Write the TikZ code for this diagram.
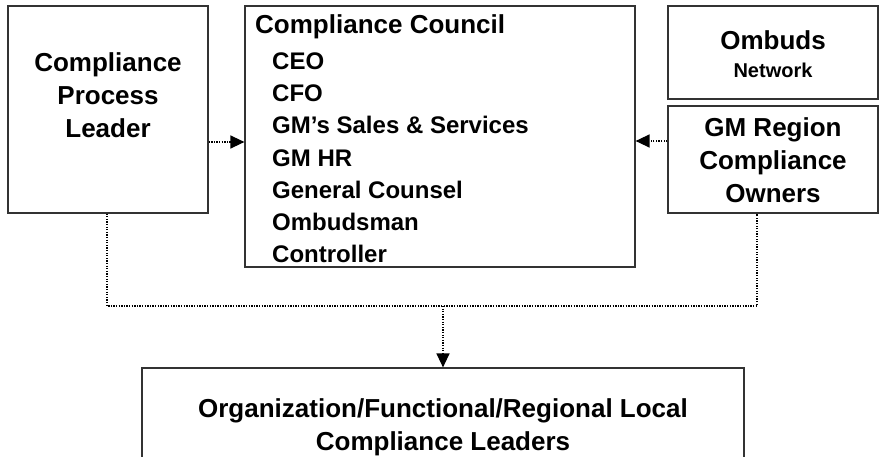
\documentclass[tikz,border=0pt]{standalone}
\usepackage{fontspec}
\setmainfont{Liberation Sans}
\usetikzlibrary{arrows.meta,calc}

\tikzset{
  box/.style={draw=black!80, line width=1.2pt, rectangle, inner sep=0pt},
  bigtxt/.style={font=\bfseries\fontsize{26}{33}\selectfont, align=center, inner sep=0pt},
  itemtxt/.style={font=\bfseries\fontsize{24}{32.2}\selectfont, align=left, inner sep=0pt, anchor=north west},
  dotline/.style={line width=1.4pt, dash pattern=on 1.3pt off 1.3pt},
  tip/.style={-{Triangle[length=14pt,width=13pt]}},
}

\begin{document}
\begin{tikzpicture}[x=1pt,y=-1pt]
  \clip (0,0) rectangle (879,457);
  \fill[white] (0,0) rectangle (879,457);

  % boxes
  \node[box, minimum width=200pt, minimum height=207pt] (lead) at (108,109.5) {};
  \node[box, minimum width=390pt, minimum height=261pt] (council) at (440,136.5) {};
  \node[box, minimum width=210pt, minimum height=93pt] (ombuds) at (773,52.5) {};
  \node[box, minimum width=210pt, minimum height=107pt] (region) at (773,159.5) {};
  \node[box, minimum width=602pt, minimum height=140pt] (local) at (443,438) {};

  % texts
  \node[bigtxt] (leadtxt) at (108,95.5) {Compliance\\Process\\Leader};
  \node[bigtxt, anchor=west] (counciltitle) at (255,27) {Compliance Council};
  \node[itemtxt] (members) at (272,52.5)
    {CEO\\CFO\\GM’s Sales \& Services\\GM HR\\General Counsel\\Ombudsman\\Controller};
  \node[bigtxt] (ombudstxt) at (773,40) {Ombuds};
  \node[font=\bfseries\fontsize{20}{24}\selectfont, inner sep=0pt] (networktxt) at (773,70) {Network};
  \node[bigtxt] (regiontxt) at (773,160) {GM Region\\Compliance\\Owners};
  \node[bigtxt] (localtxt) at (443,427) {Organization/Functional/Regional Local\\Compliance Leaders};

  % connectors
  \coordinate (bus) at (443,306);
  \draw[dotline, tip] ($(lead.east)+(0,32.5)$) -- ($(council.west)+(0,5.5)$);
  \draw[dotline, tip] ($(region.west)+(0,-18.5)$) -- ($(council.east)+(0,4.5)$);
  \draw[dotline] ($(lead.south)+(-1,0)$) |- (bus) -| ($(region.south)+(-16,0)$);
  \draw[dotline, tip] (bus) -- (local.north);
\end{tikzpicture}
\end{document}
